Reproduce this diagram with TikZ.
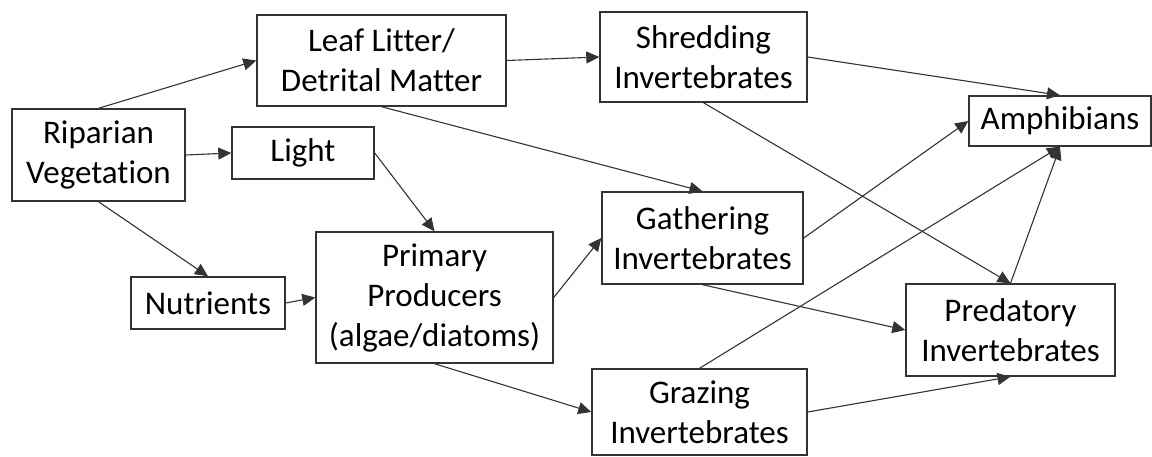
\documentclass[tikz,border=0pt]{standalone}
\usepackage{fontspec}
\setmainfont{Carlito}[Ligatures={NoCommon}]
\usetikzlibrary{arrows.meta}
\begin{document}
\begin{tikzpicture}[x=0.5pt,y=-0.5pt,
  box/.style={draw=black!80, line width=0.7pt, fill=white, align=center, inner sep=0pt,
    font=\fontsize{16.5}{20}\selectfont},
  link/.style={draw=black!80, line width=0.55pt, -{Triangle[length=6.5pt,width=6pt]}}]
\useasboundingbox (0,0) rectangle (1152,456);
\node[box, minimum width=86.5pt, minimum height=46pt] (rip) at (98.5,155) {Riparian\\Vegetation};
\node[box, minimum width=124.5pt, minimum height=45.5pt] (leaf) at (381.5,60.5) {Leaf Litter/\\Detrital Matter};
\node[box, minimum width=71pt, minimum height=26pt] (light) at (303,153) {Light};
\node[box, minimum width=103.5pt, minimum height=45pt] (shred) at (703.5,57) {Shredding\\Invertebrates};
\node[box, minimum width=91pt, minimum height=25pt] (amph) at (1060,121) {Amphibians};
\node[box, minimum width=100.5pt, minimum height=46pt] (gath) at (702.5,238) {Gathering\\Invertebrates};
\node[box, minimum width=77pt, minimum height=26pt] (nut) at (208,303) {Nutrients};
\node[box, minimum width=118.5pt, minimum height=65.5pt] (prim) at (434.5,297.5) {Primary\\Producers\\(algae/diatoms)};
\node[box, minimum width=104.5pt, minimum height=46pt] (pred) at (1010.5,330) {Predatory\\Invertebrates};
\node[box, minimum width=107.5pt, minimum height=43pt] (graz) at (699.5,412) {Grazing\\Invertebrates};
\draw[link] (rip.north) -- (leaf.west);
\draw[link] (rip.east) -- (light.west);
\draw[link] (rip.south) -- (nut.north);
\draw[link] (light.east) -- (prim.north);
\draw[link] (leaf.east) -- (shred.west);
\draw[link] (leaf.south) -- (gath.north);
\draw[link] (nut.east) -- (prim.west);
\draw[link] (prim.east) -- (gath.west);
\draw[link] (prim.south) -- (graz.west);
\draw[link] (shred.east) -- (amph.north);
\draw[link] (shred.south) -- (pred.north);
\draw[link] (gath.east) -- (amph.west);
\draw[link] (gath.south) -- (pred.west);
\draw[link] (graz.north) -- (amph.south);
\draw[link] (pred.north) -- (amph.south);
\draw[link] (graz.east) -- (pred.south);
\end{tikzpicture}
\end{document}
